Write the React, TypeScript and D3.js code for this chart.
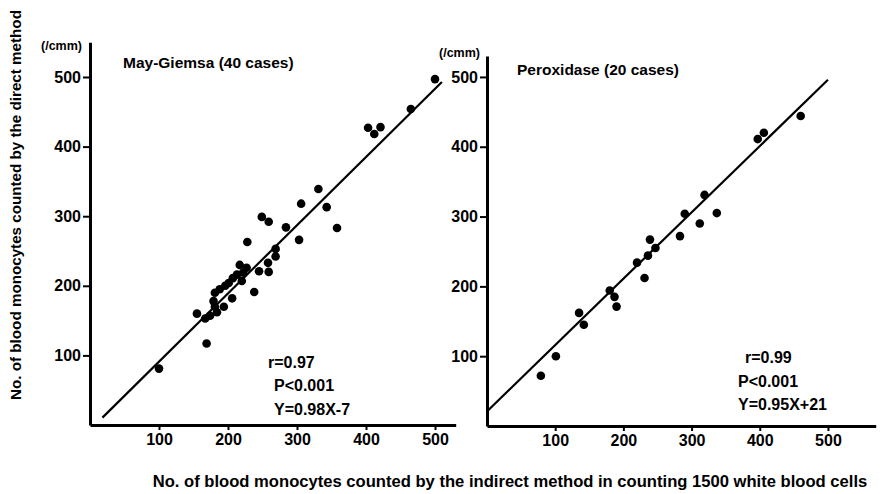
import React, { useEffect, useRef } from 'react';
import * as d3 from 'd3';

// May-Giemsa (40 cases): indirect count (x) vs direct count (y)
const giemsaX = [500, 465, 403, 412, 421, 331, 306, 343, 249, 259, 284, 358, 303, 228, 269, 269, 258, 217, 227, 245, 259, 222, 213, 207, 220, 201, 196, 188, 181, 238, 206, 179, 194, 181, 184, 174, 155, 167, 169, 100];
const giemsaY = [497, 454, 427, 418, 428, 339, 318, 313, 299, 292, 284, 283, 266, 263, 253, 242, 233, 230, 226, 221, 220, 219, 216, 211, 207, 204, 200, 195, 190, 191, 182, 178, 170, 170, 162, 157, 160, 153, 117, 81];

// Peroxidase (20 cases)
const peroxX = [460, 406, 397, 319, 290, 337, 312, 283, 239, 247, 236, 220, 231, 180, 187, 190, 135, 142, 101, 79];
const peroxY = [444, 420, 411, 331, 304, 305, 290, 272, 267, 255, 244, 234, 212, 194, 185, 171, 162, 145, 100, 72];

const tickValues = [100, 200, 300, 400, 500];
const giemsaStats = ['r=0.97', 'P<0.001', 'Y=0.98X-7'];
const peroxStats = ['r=0.99', 'P<0.001', 'Y=0.95X+21'];

const FONT = '"Liberation Sans", Arial, sans-serif';

const App = () => {
    const ref = useRef<SVGSVGElement>(null);

    useEffect(() => {
        const svg = d3.select(ref.current);
        svg.selectAll('*').remove();

        const panels = [
            {
                xs: giemsaX, ys: giemsaY, title: 'May-Giemsa (40 cases)', stats: giemsaStats,
                x: d3.scaleLinear().domain([0, 530]).range([90, 455.7]),
                y: d3.scaleLinear().domain([0, 550]).range([425, 42.2]),
                slope: 0.98, icpt: -7, lineX: [18, 510],
                titlePos: [123, 68], cmm: [82, 50],
                statPos: [[268, 368], [274, 391], [274, 415]],
            },
            {
                xs: peroxX, ys: peroxY, title: 'Peroxidase (20 cases)', stats: peroxStats,
                x: d3.scaleLinear().domain([0, 570]).range([487, 875.7]),
                y: d3.scaleLinear().domain([0, 530]).range([426, 56]),
                slope: 0.95, icpt: 21, lineX: [1, 500],
                titlePos: [517, 75], cmm: [480, 57],
                statPos: [[745, 363], [738, 387], [738, 410]],
            },
        ];

        panels.forEach(p => {
            const g = svg.append('g');

            const xAxis = g.append('g')
                .attr('transform', `translate(0, ${p.y(0)})`)
                .call(d3.axisBottom(p.x).tickValues(tickValues).tickSize(5).tickSizeOuter(0).tickPadding(4));
            const yAxis = g.append('g')
                .attr('transform', `translate(${p.x(0)}, 0)`)
                .call(d3.axisLeft(p.y).tickValues(tickValues).tickSize(7).tickSizeOuter(0).tickPadding(2));

            [xAxis, yAxis].forEach(a => {
                a.select('.domain').attr('stroke', '#000').attr('stroke-width', 3);
                a.selectAll('.tick line').attr('stroke', '#000').attr('stroke-width', 2);
                a.selectAll('.tick text')
                    .attr('fill', '#000')
                    .style('font-family', FONT)
                    .style('font-weight', 'bold')
                    .style('font-size', '16px');
            });

            // regression line
            g.append('line')
                .attr('x1', p.x(p.lineX[0]))
                .attr('y1', p.y(p.slope * p.lineX[0] + p.icpt))
                .attr('x2', p.x(p.lineX[1]))
                .attr('y2', p.y(p.slope * p.lineX[1] + p.icpt))
                .attr('stroke', '#000')
                .attr('stroke-width', 2.2);

            g.selectAll('.dot')
                .data(p.xs.map((v, i) => [v, p.ys[i]]))
                .enter()
                .append('circle')
                .attr('class', 'dot')
                .attr('cx', d => p.x(d[0]))
                .attr('cy', d => p.y(d[1]))
                .attr('r', 4.3)
                .attr('fill', '#000');

            g.append('text')
                .attr('x', p.titlePos[0])
                .attr('y', p.titlePos[1])
                .style('font-family', FONT)
                .style('font-weight', 'bold')
                .style('font-size', '15.5px')
                .text(p.title);

            g.append('text')
                .attr('x', p.cmm[0])
                .attr('y', p.cmm[1])
                .attr('text-anchor', 'end')
                .style('font-family', FONT)
                .style('font-weight', 'bold')
                .style('font-size', '12.5px')
                .text('(/cmm)');

            p.stats.forEach((s, i) => {
                g.append('text')
                    .attr('x', p.statPos[i][0])
                    .attr('y', p.statPos[i][1])
                    .style('font-family', FONT)
                    .style('font-weight', 'bold')
                    .style('font-size', '16px')
                    .text(s);
            });
        });

        svg.append('text')
            .attr('transform', 'translate(16, 205) rotate(-90)')
            .attr('text-anchor', 'middle')
            .attr('dy', '0.35em')
            .style('font-family', FONT)
            .style('font-weight', 'bold')
            .style('font-size', '15.2px')
            .text('No. of blood monocytes counted by the direct method');

        svg.append('text')
            .attr('x', 510)
            .attr('y', 487)
            .attr('text-anchor', 'middle')
            .style('font-family', FONT)
            .style('font-weight', 'bold')
            .style('font-size', '16.6px')
            .text('No. of blood monocytes counted by the indirect method in counting 1500 white blood cells');
    }, []);

    return (
        <svg ref={ref} width="890" height="494"
            style={{ position: 'absolute', left: 0, top: 0, background: '#fff' }} />
    );
};

export default App;
